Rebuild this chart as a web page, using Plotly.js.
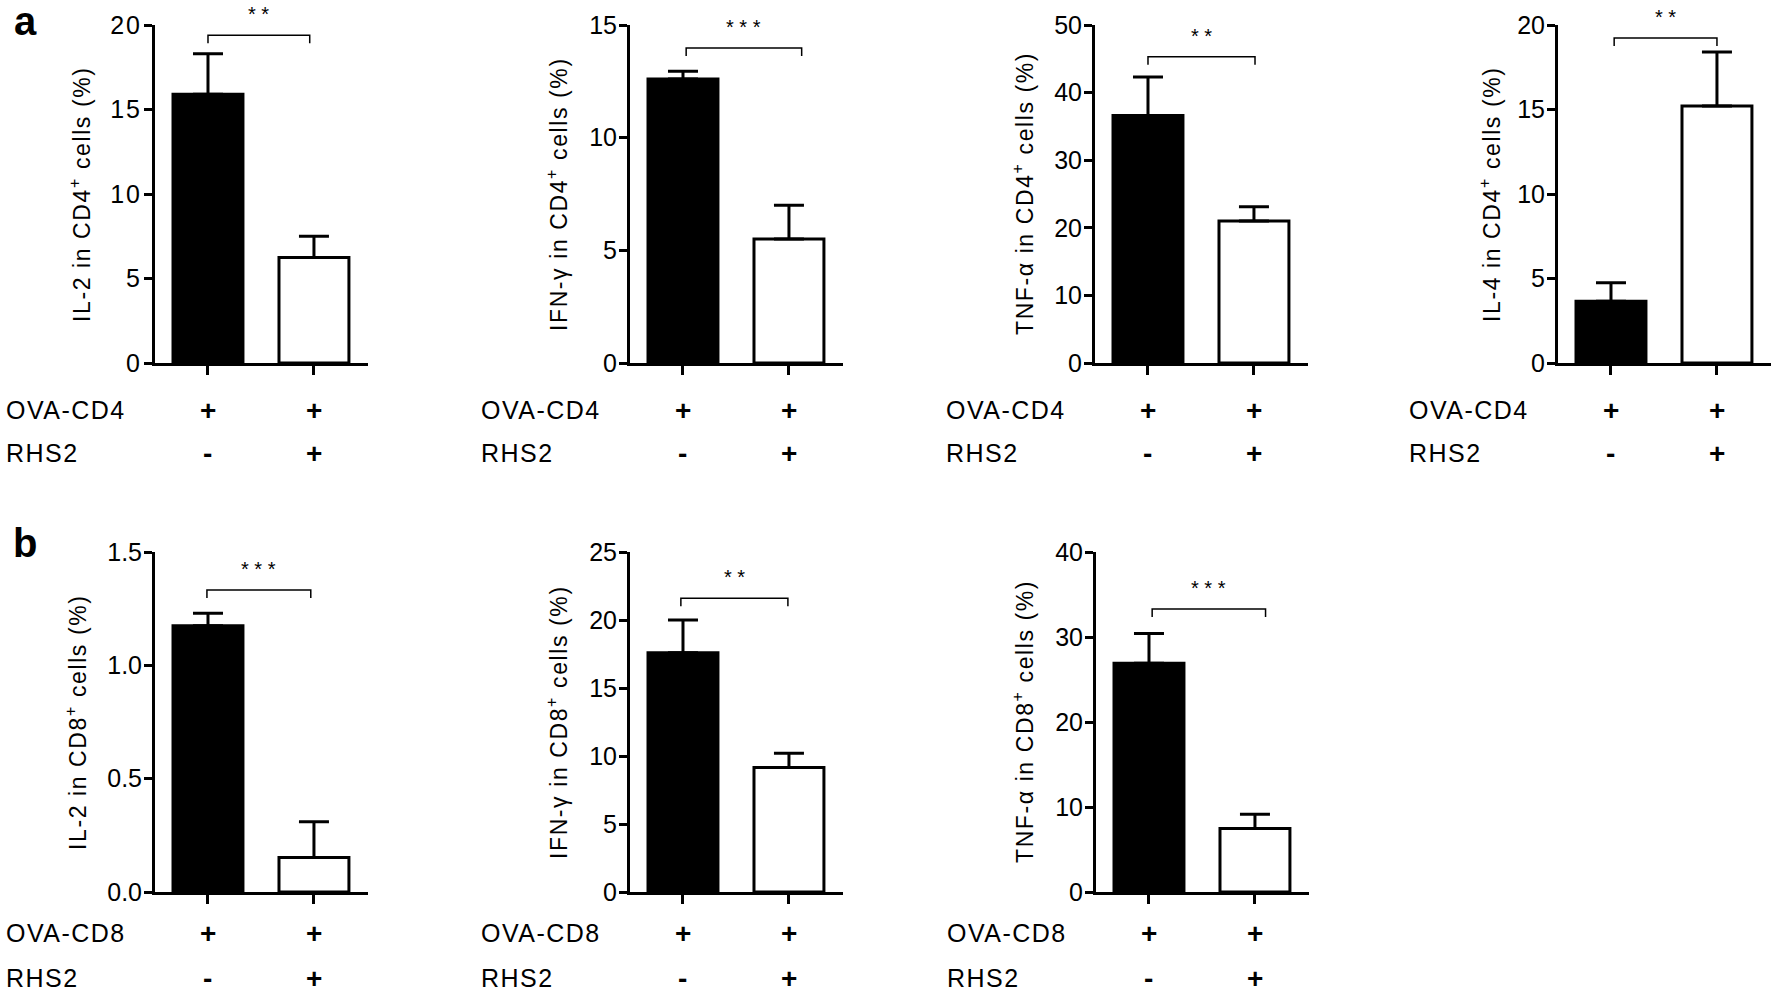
<!DOCTYPE html>
<html>
<head>
<meta charset="utf-8">
<script src="https://cdn.plot.ly/plotly-3.0.1.min.js"></script>
<style>
html,body{margin:0;padding:0;background:#fff;}
#chart{width:1775px;height:999px;}
#chart .ytick text{letter-spacing:2px;}
</style>
</head>
<body>
<div id="chart"></div>
<script>
// ---------- DATA ----------
const categories = [0, 1];               // group positions
const ovaCd4Marks = ['+', '+'];
const rhs2Marks = ['-', '+'];
const rowLabelsTop = ['OVA-CD4', 'RHS2'];
const rowLabelsBottom = ['OVA-CD8', 'RHS2'];

const yTitles = [
  'IL-2 in CD4<sup>+</sup> cells (%)',
  'IFN-γ in CD4<sup>+</sup> cells (%)',
  'TNF-α in CD4<sup>+</sup> cells (%)',
  'IL-4 in CD4<sup>+</sup> cells (%)',
  'IL-2 in CD8<sup>+</sup> cells (%)',
  'IFN-γ in CD8<sup>+</sup> cells (%)',
  'TNF-α in CD8<sup>+</sup> cells (%)'
];

const il2Cd4Mean = [15.9, 6.25];   const il2Cd4Sem = [2.4, 1.25];
const ifngCd4Mean = [12.6, 5.5];   const ifngCd4Sem = [0.35, 1.5];
const tnfCd4Mean = [36.6, 21.0];   const tnfCd4Sem = [5.7, 2.1];
const il4Cd4Mean = [3.65, 15.2];   const il4Cd4Sem = [1.1, 3.2];
const il2Cd8Mean = [1.175, 0.152]; const il2Cd8Sem = [0.055, 0.158];
const ifngCd8Mean = [17.6, 9.15];  const ifngCd8Sem = [2.4, 1.05];
const tnfCd8Mean = [26.9, 7.46];   const tnfCd8Sem = [3.5, 1.7];

const means = [il2Cd4Mean, ifngCd4Mean, tnfCd4Mean, il4Cd4Mean, il2Cd8Mean, ifngCd8Mean, tnfCd8Mean];
const sems  = [il2Cd4Sem, ifngCd4Sem, tnfCd4Sem, il4Cd4Sem, il2Cd8Sem, ifngCd8Sem, tnfCd8Sem];

const yMax  = [20, 15, 50, 20, 1.5, 25, 40];
const yDtick = [5, 5, 10, 5, 0.5, 5, 10];

const sigLabels = ['**', '***', '**', '**', '***', '**', '***'];
const bracketY = [19.4, 13.98, 45.3, 19.23, 1.332, 21.6, 33.3];
const bracketX0 = [0, 0.03, 0, 0.03, -0.01, -0.02, 0.03];
const bracketX1 = [0.96, 1.12, 1.01, 1.0, 0.97, 0.99, 1.1];

// ---------- LAYOUT GEOMETRY (pixels) ----------
const W = 1775, H = 999;
const axisX = [155, 630, 1095, 1558, 155, 630, 1096];
const panelRow = [0, 0, 0, 0, 1, 1, 1];
const rowTop = [25, 552];
const rowBottom = [363, 892];
const panelW = 213;
const titleX = [80, 557, 1023, 1490, 76, 557, 1023];
const markRowY = [[410, 453], [933, 978]];
const FONT = 'Liberation Sans, Arial, Helvetica, sans-serif';
const spaced = (t, s) => '<span style="letter-spacing:' + s + 'px">' + t + '</span>';

const data = [];
const layout = {
  width: W, height: H,
  margin: {l: 0, r: 0, t: 0, b: 0, pad: 0},
  paper_bgcolor: '#fff', plot_bgcolor: 'rgba(0,0,0,0)',
  showlegend: false,
  font: {family: FONT, color: '#000'},
  annotations: [],
  bargap: 0
};

for (let i = 0; i < 7; i++) {
  const n = i === 0 ? '' : String(i + 1);
  const r = panelRow[i];
  const plotH = rowBottom[r] - rowTop[r];
  layout['xaxis' + n] = {
    domain: [axisX[i] / W, (axisX[i] + panelW) / W],
    range: [-0.5, 1.51],
    anchor: 'y' + n,
    showline: true, linewidth: 3, linecolor: '#000',
    ticks: 'outside', ticklen: 9, tickwidth: 3, tickcolor: '#000',
    tickmode: 'array', tickvals: categories,
    showticklabels: false, showgrid: false, zeroline: false, fixedrange: true
  };
  layout['yaxis' + n] = {
    domain: [1 - rowBottom[r] / H, 1 - rowTop[r] / H],
    range: [0, yMax[i]],
    anchor: 'x' + n,
    tick0: 0, dtick: yDtick[i],
    tickformat: yDtick[i] < 1 ? '.1f' : 'd',
    showline: true, linewidth: 3, linecolor: '#000',
    ticks: 'outside', ticklen: 8, tickwidth: 3, tickcolor: '#000',
    ticklabelstandoff: -3,
    tickfont: {size: 25, family: FONT, color: '#000'},
    showgrid: false, zeroline: false, fixedrange: true
  };

  data.push({
    type: 'bar', x: categories, y: means[i],
    xaxis: 'x' + n, yaxis: 'y' + n,
    width: 0.66,
    marker: {color: ['#000', '#fff'], line: {color: '#000', width: 3}},
    error_y: {type: 'data', symmetric: false, array: sems[i], arrayminus: [0, 0],
              color: '#000', thickness: 3, width: 15},
    hoverinfo: 'skip'
  });

  // significance bracket
  const drop = 8 / plotH * yMax[i];
  data.push({
    type: 'scatter', mode: 'lines',
    x: [bracketX0[i], bracketX0[i], bracketX1[i], bracketX1[i]],
    y: [bracketY[i] - drop, bracketY[i], bracketY[i], bracketY[i] - drop],
    xaxis: 'x' + n, yaxis: 'y' + n,
    line: {color: '#000', width: 1.5},
    hoverinfo: 'skip'
  });
  layout.annotations.push({
    xref: 'x' + n, yref: 'y' + n,
    x: (bracketX0[i] + bracketX1[i]) / 2, y: bracketY[i],
    text: sigLabels[i].split('').join(' '),
    showarrow: false, xanchor: 'center', yanchor: 'middle', yshift: 21,
    font: {size: 20, family: FONT, color: '#000'}
  });

  // y-axis title
  layout.annotations.push({
    xref: 'paper', yref: 'paper',
    x: titleX[i] / W, y: 1 - (rowTop[r] + rowBottom[r]) / 2 / H,
    text: spaced(yTitles[i], 1.6), textangle: -90, showarrow: false,
    xanchor: 'center', yanchor: 'middle',
    font: {size: 23, family: FONT, color: '#000'}
  });

  // row labels
  const labels = r === 0 ? rowLabelsTop : rowLabelsBottom;
  for (let k = 0; k < 2; k++) {
    layout.annotations.push({
      xref: 'paper', yref: 'paper',
      x: (axisX[i] - 151) / W, y: 1 - markRowY[r][k] / H,
      text: spaced(labels[k], 1.5), showarrow: false, xanchor: 'left', yanchor: 'middle',
      font: {size: 25, family: FONT, color: '#000'}
    });
  }
  // +/- marks
  const rows = [ovaCd4Marks, rhs2Marks];
  for (let k = 0; k < 2; k++) {
    for (let c = 0; c < categories.length; c++) {
      layout.annotations.push({
        xref: 'x' + n, yref: 'paper',
        x: categories[c], y: 1 - markRowY[r][k] / H,
        text: '<b>' + rows[k][c] + '</b>', showarrow: false,
        xanchor: 'center', yanchor: 'middle',
        font: {size: 28, family: FONT, color: '#000'}
      });
    }
  }
}

// panel letters
layout.annotations.push({xref: 'paper', yref: 'paper', x: 12 / W, y: 1 - 21 / H,
  text: '<b>a</b>', showarrow: false, xanchor: 'left', yanchor: 'middle',
  font: {size: 40, family: FONT, color: '#000'}});
layout.annotations.push({xref: 'paper', yref: 'paper', x: 11 / W, y: 1 - 543 / H,
  text: '<b>b</b>', showarrow: false, xanchor: 'left', yanchor: 'middle',
  font: {size: 40, family: FONT, color: '#000'}});

Plotly.newPlot('chart', data, layout, {displayModeBar: false, staticPlot: true});
</script>
</body>
</html>
